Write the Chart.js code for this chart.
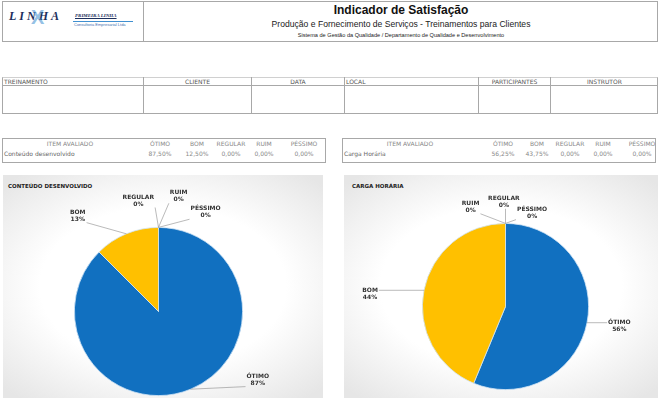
<!DOCTYPE html>
<html>
<head>
<meta charset="utf-8">
<script src="https://cdn.jsdelivr.net/npm/chart.js@4.4.1/dist/chart.umd.min.js"></script>
<style>
  body { margin: 0; background: #fff; width: 660px; height: 402px; position: relative; overflow: hidden; font-family: "DejaVu Sans", sans-serif; }
  .abs { position: absolute; box-sizing: border-box; }
  .box { border: 1px solid #a8a8a8; }
  .t6 { font-size: 6px; color: #555; white-space: nowrap; }
  .panel { background: radial-gradient(ellipse 70% 65% at 50% 50%, #ffffff 55%, #e6e6e6 100%); }
</style>
</head>
<body>

<!-- cabeçalho -->
<div class="abs box" style="left:2px;top:1px;width:656px;height:41px;"></div>
<div class="abs" style="left:143px;top:1px;width:1px;height:41px;background:#a8a8a8;"></div>
<div class="abs" style="left:9px;top:9px;width:60px;height:16px;">
  <div class="abs" style="left:0;top:0;font:italic bold 12px 'Liberation Serif';color:#1c2f5c;letter-spacing:3px;">LINHA</div>
  <div class="abs" style="left:22px;top:-3px;font:bold 20px 'Liberation Sans';color:#3f8fd0;opacity:0.55;">X</div>
</div>
<div class="abs" style="left:75px;top:13px;font:italic bold 5px 'Liberation Serif';color:#1c2f5c;text-decoration:underline;">PRIMEIRA LINHA</div>
<div class="abs" style="left:73px;top:21px;width:60px;height:1px;background:#3f8fd0;"></div>
<div class="abs" style="left:74px;top:22px;font:4px 'Liberation Sans';color:#3f6fb0;">Consultoria Empresarial Ltda</div>
<div class="abs" style="left:144px;top:3px;width:514px;text-align:center;font:bold 12px 'Liberation Sans';color:#111;">Indicador de Satisfação</div>
<div class="abs" style="left:144px;top:19px;width:514px;text-align:center;font:8.6px 'Liberation Sans';color:#222;">Produção e Fornecimento de Serviços - Treinamentos para Clientes</div>
<div class="abs" style="left:144px;top:32px;width:514px;text-align:center;font:5.6px 'Liberation Sans';color:#222;">Sistema de Gestão da Qualidade / Departamento de Qualidade e Desenvolvimento</div>

<!-- dados do treinamento -->
<div class="abs box" style="left:2px;top:77px;width:656px;height:37px;border-top-color:#d0d0d0;"></div>
<div class="abs" style="left:2px;top:85px;width:656px;height:1px;background:#a8a8a8;"></div>
<div id="formCols"></div>

<!-- tabelas de itens -->
<div class="abs box" style="left:2px;top:138px;width:324px;height:25px;"></div>
<div class="abs box" style="left:342px;top:138px;width:314px;height:25px;"></div>
<div id="itemTables"></div>

<!-- gráficos -->
<div class="abs panel" style="left:3px;top:175px;width:320px;height:223px;">
  <div class="abs" style="left:5px;top:8px;font:bold 5.5px 'DejaVu Sans';color:#222;">CONTEÚDO DESENVOLVIDO</div>
  <canvas id="chartConteudo" width="320" height="223" style="position:absolute;left:0;top:0;"></canvas>
</div>
<div class="abs panel" style="left:344px;top:175px;width:314px;height:223px;">
  <div class="abs" style="left:8px;top:8px;font:bold 5.5px 'DejaVu Sans';color:#222;">CARGA HORÁRIA</div>
  <canvas id="chartCarga" width="314" height="223" style="position:absolute;left:0;top:0;"></canvas>
</div>

<script>
const categories = ['ÓTIMO', 'BOM', 'REGULAR', 'RUIM', 'PÉSSIMO'];
const conteudoValues = [87.5, 12.5, 0, 0, 0];
const cargaValues = [56.25, 43.75, 0, 0, 0];
const formHeaders = ['TREINAMENTO', 'CLIENTE', 'DATA', 'LOCAL', 'PARTICIPANTES', 'INSTRUTOR'];
const itemConteudo = 'Conteúdo desenvolvido';
const itemCarga = 'Carga Horária';

const sliceColors = ['#1170c0', '#ffc000', '#a5a5a5', '#5b9bd5', '#70ad47'];

// cabeçalho do formulário
const formEdges = [2, 143, 251, 344, 478, 550, 658];
const formAlign = ['left', 'center', 'center', 'left', 'center', 'center'];
let html = '';
formHeaders.forEach((h, i) => {
  const l = formEdges[i], r = formEdges[i + 1];
  html += '<div class="abs t6" style="left:' + (l + 2) + 'px;top:78px;width:' + (r - l - 3) + 'px;text-align:' + formAlign[i] + ';color:#555">' + h + '</div>';
  if (i > 0) html += '<div class="abs" style="left:' + l + 'px;top:77px;width:1px;height:37px;background:#a8a8a8"></div>';
});
document.getElementById('formCols').innerHTML = html;

// tabelas ITEM AVALIADO
function pct(v) { return v.toFixed(2).replace('.', ',') + '%'; }
function itemTable(left, centers, item, values) {
  let s = '<div class="abs t6" style="left:' + (centers[0] - 50) + 'px;top:140px;width:100px;text-align:center;color:#888">ITEM AVALIADO</div>';
  s += '<div class="abs t6" style="left:' + (left + 2) + 'px;top:150px;color:#666">' + item + '</div>';
  categories.forEach((c, i) => {
    s += '<div class="abs t6" style="left:' + (centers[i + 1] - 25) + 'px;top:140px;width:50px;text-align:center;color:#888">' + c + '</div>';
    s += '<div class="abs t6" style="left:' + (centers[i + 1] - 25) + 'px;top:150px;width:50px;text-align:center;color:#888">' + pct(values[i]) + '</div>';
  });
  return s;
}
document.getElementById('itemTables').innerHTML =
  itemTable(2, [70, 160, 197, 231, 264, 304], itemConteudo, conteudoValues) +
  itemTable(342, [410, 503, 537, 570, 603, 642], itemCarga, cargaValues);

// arredondamento pelo maior resto (empate vai para a fatia menor)
function roundPercents(vals) {
  const tot = vals.reduce((a, b) => a + b, 0);
  const raw = vals.map(v => v / tot * 100);
  const out = raw.map(Math.floor);
  let left = 100 - out.reduce((a, b) => a + b, 0);
  const order = raw.map((v, i) => i).sort((a, b) => (raw[b] - out[b]) - (raw[a] - out[a]) || raw[a] - raw[b]);
  for (let k = 0; k < left; k++) out[order[k]]++;
  return out;
}

const pieLabels = {
  id: 'pieLabels',
  afterDatasetsDraw(chart, args, opts) {
    const ctx = chart.ctx;
    const meta = chart.getDatasetMeta(0);
    const pcts = roundPercents(chart.data.datasets[0].data);
    ctx.save();
    ctx.font = 'bold 6px "DejaVu Sans"';
    ctx.textAlign = 'center';
    ctx.textBaseline = 'middle';
    meta.data.forEach((arc, i) => {
      const p = arc.getProps(['x', 'y', 'outerRadius', 'startAngle', 'endAngle'], true);
      const mid = (p.startAngle + p.endAngle) / 2;
      const ax = p.x + Math.cos(mid) * p.outerRadius;
      const ay = p.y + Math.sin(mid) * p.outerRadius;
      const lx = p.x + opts.pos[i][0] * p.outerRadius;
      const ly = p.y + opts.pos[i][1] * p.outerRadius;
      const name = chart.data.labels[i];
      const val = pcts[i] + '%';
      const w = Math.max(ctx.measureText(name).width, ctx.measureText(val).width) + 2;
      const sx = Math.min(Math.max(ax, lx - w / 2), lx + w / 2);
      const sy = Math.min(Math.max(ay, ly - 7), ly + 7);
      ctx.strokeStyle = '#8c8c8c';
      ctx.lineWidth = 0.6;
      ctx.beginPath();
      ctx.moveTo(sx, sy);
      ctx.lineTo(ax, ay);
      ctx.stroke();
      ctx.fillStyle = '#333';
      ctx.fillText(name, lx, ly - 3.5);
      ctx.fillText(val, lx, ly + 3.5);
    });
    ctx.restore();
  }
};

function makePie(id, values, padding, pos) {
  return new Chart(document.getElementById(id), {
    type: 'pie',
    data: {
      labels: categories,
      datasets: [{
        data: values,
        backgroundColor: sliceColors,
        borderColor: '#cfe3f5',
        borderWidth: 0.8
      }]
    },
    options: {
      responsive: false,
      animation: false,
      layout: { padding: padding },
      plugins: {
        legend: { display: false },
        tooltip: { enabled: false },
        pieLabels: { pos: pos }
      }
    },
    plugins: [pieLabels]
  });
}

makePie('chartConteudo', conteudoValues,
  { left: 71, right: 80, top: 52, bottom: 2 },
  [[1.18, 0.81], [-0.96, -1.14], [-0.24, -1.32], [0.24, -1.37], [0.56, -1.18]]);

makePie('chartCarga', cargaValues,
  { left: 78, right: 69, top: 48, bottom: 8 },
  [[1.37, 0.23], [-1.63, -0.15], [-0.02, -1.26], [-0.42, -1.2], [0.32, -1.13]]);
</script>
</body>
</html>
